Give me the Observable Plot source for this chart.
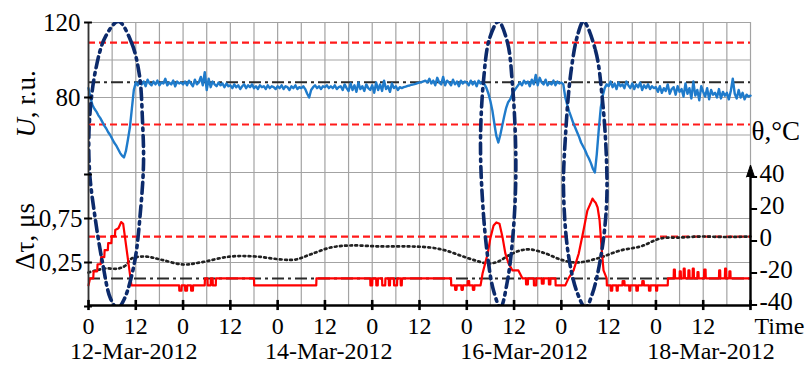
<!DOCTYPE html>
<html><head><meta charset="utf-8">
<script src="https://cdn.jsdelivr.net/npm/d3@7"></script>
<script src="https://cdn.jsdelivr.net/npm/@observablehq/plot@0.6"></script>
<style>
body{margin:0;background:#fff;}
#chart{width:809px;height:366px;}
</style>
</head><body><div id="chart"></div>
<script>
// ---------- DATA ----------
// Time axis: hours from 12-Mar-2012 00:00
const xTickHours  = [0,12,24,36,48,60,72,84,96,108,120,132,144,156];
const xTickLabels = ["0","12","0","12","0","12","0","12","0","12","0","12","0","12"];
const dateLabels     = ["12-Mar-2012","14-Mar-2012","16-Mar-2012","18-Mar-2012"];
const dateLabelHours = [11.5, 61, 110.5, 158];

// Top panel: U, r.u. sampled every 0.5 h
const uStepHours = 0.5;
const uValues = [
85,80,76,74,72.5,70.5,69,67,65,63.5,61.5,60,58,56,54.5,52.5,50.5,49,48,51.5,57.5,64,74,84,
88,86.5,89,87,88.5,86,89.5,87.5,86.5,88.5,87,89,86.5,88,87.5,90,86.5,88,87,89,86,88.5,87.5,88,
87,88.5,86.5,89,87.5,86,89.5,87,88,91,86.5,93.5,84,90,85.5,88.5,87,86,88,86.5,87.5,85.5,87.5,86,
86.5,85,87,85.5,86.5,84.5,86,87,85,86.5,85.5,87,85,86,84.5,86.5,85.5,86,84.5,86.5,85,86,85.5,84.5,
86,85,86.5,84.5,86,85.5,84,86,85,86.5,84.5,85.5,85,86,84.5,82,80,84,85.5,86.5,85,86,84.5,86,
85.5,86.5,85,86,85,86.5,84.5,85.5,86,84,87,85,83.5,87.5,84,86.5,83,88,84.5,86,83.5,87,85,84,
86.5,82.5,88,84,87,83.5,89,84.5,86,83,87.5,85,86,84,85.5,85,85.5,85.8,86.2,86.4,86.8,87,87.3,87.7,
88,88.2,88.6,89,88,90,87.5,89,86.5,90.5,88,87,91,86.5,89,88,86.5,89.5,87,88.5,86,89,87.5,88.5,
88,86.5,89,87,88.5,86,89,87.5,88,87,85,82,78,73,66,59.5,56,60,65,70,74.5,77.5,79,81.5,
83.5,85,86.5,88,86.5,89,87.5,88.5,86,89.5,87,92,86.5,90.5,88,87,89.5,86.5,88,87,89,86.5,88.5,87.5,
88,87,80,76,72.5,69.5,66.5,64,61.5,59,56,54,52,49.5,47.5,45,42,40,50,63,74.5,81,85,87,
86,88.5,85.5,87.5,84.5,88,86,87,85,88.5,86.5,85,87.5,84.5,87,85.5,88,84,86.5,85,87,84.5,86,85,
85.5,83,86,82.5,85,83.5,87,82,84.5,85.5,81.5,86,83,84.5,80.5,87.5,82,85,79.5,88.5,81,84,78.5,86,
83,80.5,85,79,84,81.5,82.5,80,84.5,79.5,83,81,82.5,79,83.5,90,82,79.5,84,80,82.5,79,81.5,80.5,
81];
const uTickValues  = [120, 80];
const uGridValues  = [120, 100, 80, 60, 40];
const uLimitLines  = [109.3, 65.6];
const uNominalLine = [88.2];

// Bottom panel: delta tau, microseconds  [hour, value]
const tauPoints = [
[0,-0.01],[0.4,0.07],[1.2,0.07],[1.3,0.15],[2.2,0.15],[2.3,0.23],[3.1,0.23],[3.2,0.31],[4.0,0.31],[4.1,0.39],
[4.9,0.39],[5.0,0.47],[5.8,0.47],[5.9,0.55],[6.7,0.55],[6.8,0.62],[7.6,0.64],[8.3,0.71],[8.8,0.69],[10.9,-0.01],
[23.0,-0.01],[23.05,-0.07],[23.6,-0.07],[23.65,-0.01],[24.5,-0.01],[24.55,-0.07],[25.0,-0.07],[25.05,-0.01],
[26.0,-0.01],[26.05,-0.07],[26.5,-0.07],[26.55,-0.01],
[29.5,-0.01],[29.55,0.07],[30.2,0.07],[30.25,-0.01],[31.0,-0.01],[31.05,0.07],[31.5,0.07],[31.55,-0.01],
[32.3,-0.01],[32.35,0.07],[42.0,0.07],[42.05,-0.01],[57.8,-0.01],[57.85,0.07],
[71.5,0.07],[71.55,-0.01],[72.0,-0.01],[72.05,0.07],[73.0,0.07],[73.05,-0.01],[73.4,-0.01],[73.45,0.07],
[74.5,0.07],[74.55,-0.01],[75.3,-0.01],[75.35,0.07],[76.2,0.07],[76.25,-0.01],[76.5,-0.01],[76.55,0.07],
[77.5,0.07],[77.55,-0.01],[78.3,-0.01],[78.35,0.07],[79.2,0.07],[79.25,-0.01],[79.5,-0.01],[79.55,0.07],
[92.0,0.07],[92.05,-0.01],[93.0,-0.01],[93.05,-0.06],[93.4,-0.06],[93.45,-0.01],[94.6,-0.01],[94.65,-0.06],
[95.0,-0.06],[95.05,-0.01],[96.2,-0.01],[96.25,0.04],[96.6,0.04],[96.65,-0.01],[97.5,-0.01],[97.55,-0.06],
[97.9,-0.06],[97.95,-0.01],[99.5,-0.01],
[100.0,0.125],[101.3,0.35],[102.0,0.53],[102.8,0.67],[103.5,0.705],[104.3,0.69],[105.1,0.53],[105.8,0.35],
[106.6,0.24],[107.6,0.16],[109.1,0.16],[110.1,0.07],
[111.0,0.07],[111.05,0.0],[111.5,0.0],[111.55,0.07],[113.0,0.07],[113.05,-0.01],[113.6,-0.01],[113.65,0.07],
[115.0,0.07],[115.05,0.01],[115.5,0.01],[115.55,0.07],[116.8,0.07],[116.85,0.0],[117.2,0.0],[117.25,0.07],
[118.5,0.07],[118.55,-0.01],[121.0,-0.01],
[121.8,0.07],[123.1,0.16],[124.4,0.35],[125.6,0.61],[126.6,0.84],[127.4,0.92],[127.9,0.977],[128.3,0.95],
[128.7,0.93],[129.2,0.875],[129.7,0.73],[130.2,0.42],[130.7,0.16],[131.5,0.07],[131.55,-0.01],
[132.5,-0.01],[132.55,-0.07],[132.9,-0.07],[132.95,-0.01],[134.0,-0.01],[134.05,-0.07],[134.3,-0.07],[134.35,-0.01],
[135.5,-0.01],[135.55,0.04],[136.0,0.04],[136.05,-0.01],[137.2,-0.01],[137.25,-0.07],[137.5,-0.07],[137.55,-0.01],
[139.0,-0.01],[139.05,-0.07],[139.4,-0.07],[139.45,-0.01],[140.5,-0.01],[140.55,0.04],[140.9,0.04],[140.95,-0.01],
[142.2,-0.01],[142.25,-0.07],[142.6,-0.07],[142.65,-0.01],[144.0,-0.01],[144.05,-0.07],[144.3,-0.07],[144.35,-0.01],
[147.0,-0.01],[147.05,0.07],
[148.5,0.07],[148.55,0.17],[148.8,0.17],[148.85,0.07],[150.0,0.07],[150.05,0.15],[150.3,0.15],[150.35,0.07],
[151.0,0.07],[151.05,0.18],[151.3,0.18],[151.35,0.07],[152.2,0.07],[152.25,0.16],[152.5,0.16],[152.55,0.07],
[153.3,0.07],[153.35,0.18],[153.6,0.18],[153.65,0.07],[154.5,0.07],[154.55,0.14],[154.8,0.14],[154.85,0.07],
[156.2,0.07],[156.25,0.17],[156.6,0.17],[156.65,0.07],[160.0,0.07],[160.05,0.16],[160.3,0.16],[160.35,0.07],
[161.5,0.07],[161.55,0.18],[161.8,0.18],[161.85,0.07],[162.6,0.07],[162.65,0.15],[162.9,0.15],[162.95,0.07],
[168,0.07]];
const tauTickValues = [0.75, 0.25];
const tauTickLabels = ["0,75", "0,25"];
const tauAxisMarks  = [1.25, 0.75, 0.25, -0.25];
const tauLimitLines = [0.545];
const tauNominalLine = [0.068];

// Bottom panel: temperature theta, deg C  [hour, value]
const thetaPoints = [
[0,-19.7],[1.8,-18.4],[4.3,-17.2],[7.6,-17.2],[9.4,-15.3],[10.9,-11.0],[14.5,-9.7],[18.3,-11.6],[24.1,-14.7],
[28.4,-13.4],[36,-9.7],[42.4,-9.7],[49.2,-11.6],[52.5,-11.6],[56.3,-8.4],[61.4,-4.1],[66.5,-2.8],[74.1,-3.4],
[81.7,-3.4],[86.8,-4.1],[90.6,-5.9],[94.4,-9.1],[98.2,-12.2],[101.5,-14.1],[104,-12.8],[106.6,-9.1],[109.6,-5.9],
[112.2,-5.3],[116,-7.8],[119.8,-11.6],[123.1,-13.4],[126.1,-12.8],[129.9,-10.3],[135,-5.9],[140.1,-3.4],
[145.2,1.6],[150.2,2.2],[155.3,2.8],[161.7,2.5],[168,2.8]];
const thetaTicks = [40, 20, 0, -20, -40];

// Highlight outlines (hour, position in U units of the combined panel)
const ellipse1 = [[7.61,120.5],[10.91,109.3],[12.94,91.7],[13.70,67.7],[13.96,44.8],[13.20,19.7],[11.67,-8.0],
[9.14,-27.2],[7.36,-32.5],[5.58,-27.2],[3.55,-8.0],[1.78,14.4],[0.25,41.1],[0.25,67.7],[1.78,94.4],[4.31,112.5]];
const ellipse2 = [[104.05,120.5],[106.33,109.3],[107.60,86.4],[108.36,57.1],[108.36,30.4],[107.60,3.7],[106.33,-17.6],
[104.55,-32.0],[102.78,-22.9],[101.26,-4.3],[99.99,25.1],[99.48,57.1],[100.25,89.1],[101.77,111.5]];
const ellipse3 = [[125.62,120.5],[128.67,105.1],[130.44,78.4],[131.46,46.4],[131.46,22.4],[130.19,-2.7],[127.9,-24.5],
[126.13,-32.0],[124.10,-24.5],[121.81,-4.3],[120.55,30.4],[121.05,59.7],[122.32,91.7],[124.10,113.1]];

// ---------- LAYOUT HELPERS ----------
const X_END = 168;
const V_TOP = 120, V_BOTTOM = -30.93;           // combined vertical coordinate (U units)
const vTau = t => -19.73 + 46.93 * t;            // delta tau -> combined coordinate
const vTheta = th => 3.47 + 0.8533 * th;         // theta -> combined coordinate
const gridHours = d3.range(0, X_END + 1, 6);

const serif = "'Liberation Serif','Times New Roman',serif";
const FS = 25;   // tick labels
const FX = 24;   // bottom axis labels

const ellipses = [
  ...ellipse1.map(p => ({id: 1, h: p[0], v: p[1]})),
  ...ellipse2.map(p => ({id: 2, h: p[0], v: p[1]})),
  ...ellipse3.map(p => ({id: 3, h: p[0], v: p[1]}))
];

const chart = Plot.plot({
  width: 809, height: 366,
  marginLeft: 88, marginRight: 59, marginTop: 22, marginBottom: 61,
  x: {domain: [0, X_END], axis: null, label: null},
  y: {domain: [V_BOTTOM, V_TOP], axis: null, label: null},
  style: {fontFamily: serif, fontSize: FS + "px", background: "#fff", color: "#000"},
  marks: [
    // grid
    Plot.ruleX(gridHours, {x: d => d, stroke: "#a3a3a3", strokeWidth: 1.2}),
    Plot.ruleY(uGridValues, {y: d => d, stroke: "#a3a3a3", strokeWidth: 1.2}),
    Plot.ruleY(tauTickValues, {y: vTau, stroke: "#a3a3a3", strokeWidth: 1.2}),
    // reference levels
    Plot.ruleY(uLimitLines, {y: d => d, stroke: "#ff1a1a", strokeWidth: 2.2, strokeDasharray: "7,4"}),
    Plot.ruleY(uNominalLine, {y: d => d, stroke: "#2a2a2a", strokeWidth: 2, strokeDasharray: "12,4,3,4"}),
    Plot.ruleY(tauLimitLines, {y: vTau, stroke: "#ff1a1a", strokeWidth: 2.2, strokeDasharray: "7,4"}),
    Plot.ruleY(tauNominalLine, {y: vTau, stroke: "#2a2a2a", strokeWidth: 2, strokeDasharray: "12,4,3,4"}),
    // series
    Plot.line(uValues, {x: (d, i) => i * uStepHours, y: d => d, stroke: "#1f7bcb", strokeWidth: 2.4}),
    Plot.line(thetaPoints, {x: d => d[0], y: d => vTheta(d[1]), curve: "catmull-rom",
      stroke: "#222", strokeWidth: 2.7, strokeDasharray: "1.8,3.4"}),
    Plot.line(tauPoints, {x: d => d[0], y: d => vTau(d[1]), stroke: "#ff0000", strokeWidth: 2.2}),
    // highlight outlines
    Plot.line(ellipses, {x: "h", y: "v", z: "id", curve: "catmull-rom-closed", clip: true,
      stroke: "#0c2a6b", strokeWidth: 3.6, strokeDasharray: "11,5,2.5,5"}),
    // axis lines
    Plot.ruleX([0], {x: d => d, stroke: "#333", strokeWidth: 1.8}),
    Plot.ruleX([X_END], {x: d => d, y1: V_BOTTOM, y2: vTheta(40), stroke: "#000", strokeWidth: 2.4}),
    Plot.vector([vTheta(40)], {x: X_END, y: d => d, length: 12, rotate: 0, shape: "spike", r: 4,
      anchor: "start", fill: "#000", stroke: "#000", strokeWidth: 1}),
    Plot.ruleY([V_BOTTOM], {y: d => d, stroke: "#000", strokeWidth: 2.6}),
    Plot.ruleX(xTickHours.concat([X_END]), {x: d => d, y1: V_BOTTOM + 2.7, y2: V_BOTTOM - 2.7, stroke: "#000", strokeWidth: 2.6}),
    Plot.ruleY(uTickValues, {y: d => d, x1: -1, x2: 1, stroke: "#000", strokeWidth: 2}),
    Plot.ruleY(tauAxisMarks, {y: vTau, x1: -1, x2: 1, stroke: "#000", strokeWidth: 2}),
    Plot.ruleY(thetaTicks, {y: vTheta, x1: X_END, x2: X_END + 1.8, stroke: "#000", strokeWidth: 2}),
    // x axis labels
    Plot.axisX(xTickHours, {tickFormat: d => xTickLabels[xTickHours.indexOf(d)], tickSize: 0, tickPadding: 11,
      fontSize: FX, label: null}),
    Plot.text(dateLabels, {x: (d, i) => dateLabelHours[i], y: V_BOTTOM, text: d => d, lineAnchor: "top", dy: 36, fontSize: FX}),
    Plot.text(["Time"], {x: X_END, y: V_BOTTOM, text: d => d, textAnchor: "start", lineAnchor: "top", dx: 4, dy: 11, fontSize: FX}),
    // y axis labels
    Plot.text(uTickValues, {x: 0, y: d => d, text: d => String(d), textAnchor: "end", dx: -8, fontSize: FS}),
    Plot.text(tauTickValues, {x: 0, y: vTau, text: (d, i) => tauTickLabels[i], textAnchor: "end", dx: -6, fontSize: FS}),
    Plot.text(thetaTicks, {x: X_END, y: vTheta, text: d => String(d), textAnchor: "start", dx: 9, dy: -3, fontSize: FS}),
    // axis titles
    Plot.text(["U"], {x: -15.7, y: 58.7, text: d => d, rotate: -90, textAnchor: "start", fontStyle: "italic", fontSize: 27}),
    Plot.text([", r.u."], {x: -15.7, y: 69.0, text: d => d, rotate: -90, textAnchor: "start", fontSize: 27}),
    Plot.text(["\u0394\u03c4, \u03bcs"], {x: -15.9, y: 5.9, text: d => d, rotate: -90, fontSize: 27}),
    Plot.text(["\u03b8,\u00b0C"], {x: X_END, y: 61.9, text: d => d, textAnchor: "start", dx: 1, fontSize: 27})
  ]
});
document.getElementById("chart").appendChild(chart);
</script>
</body></html>
